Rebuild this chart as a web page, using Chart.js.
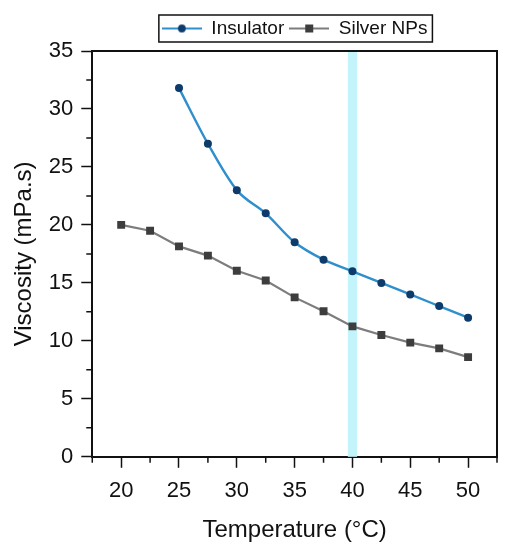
<!DOCTYPE html>
<html>
<head>
<meta charset="utf-8">
<script src="https://cdn.jsdelivr.net/npm/chart.js@4.4.1/dist/chart.umd.min.js"></script>
<style>
  html, body { margin: 0; padding: 0; background: #fff; }
  #wrap { width: 515px; height: 550px; }
</style>
</head>
<body>
<div id="wrap"><canvas id="idViscosity"></canvas></div>
<script>
        // data
        const temp_insulator = [25, 27.5, 30, 32.5, 35, 37.5, 40, 42.5, 45, 47.5, 50];
        const visc_insulator = [31.8, 27.0, 23.0, 21.0, 18.5, 17.0, 16.0, 15.0, 14.0, 13.0, 12.0];
        const temp_silver = [20, 22.5, 25, 27.5, 30, 32.5, 35, 37.5, 40, 42.5, 45, 47.5, 50];
        const visc_silver = [20.0, 19.5, 18.15, 17.35, 16.05, 15.2, 13.75, 12.55, 11.25, 10.5, 9.85, 9.35, 8.6];
        const band_40 = [39.6, 40.4];
        const series_names = ['Insulator', 'Silver NPs'];

        const FONT = "'Liberation Sans', Arial, sans-serif";

        // little line+marker pictures used as legend symbols
        function legendSymbol(lineColor, markColor, square) {
            var c = document.createElement('canvas');
            c.width = 40; c.height = 12;
            var g = c.getContext('2d');
            g.strokeStyle = lineColor;
            g.lineWidth = 2;
            g.beginPath(); g.moveTo(0, 6); g.lineTo(40, 6); g.stroke();
            g.fillStyle = markColor;
            if (square) {
                g.fillRect(16, 2, 8, 8);
            } else {
                g.beginPath(); g.arc(20, 6, 3.9, 0, Math.PI * 2); g.fill();
            }
            return c;
        }

        var sym1 = legendSymbol('#2f8fcd', '#0c3b6c', false);
        var sym2 = legendSymbol('#7d7d7d', '#3d3d3d', true);

        // cyan band, frame, minor ticks, legend border
        var extras = {
            id: 'extras',
            beforeDatasetsDraw(chart) {
                var ctx = chart.ctx, a = chart.chartArea, sx = chart.scales.x;
                var x0 = sx.getPixelForValue(band_40[0]);
                var x1 = sx.getPixelForValue(band_40[1]);
                ctx.save();
                ctx.fillStyle = '#c3f4fb';
                ctx.fillRect(x0, a.top, x1 - x0, a.bottom - a.top);
                ctx.restore();
            },
            afterDraw(chart) {
                var ctx = chart.ctx, a = chart.chartArea;
                var sx = chart.scales.x, sy = chart.scales.y;
                ctx.save();
                ctx.strokeStyle = '#111';
                ctx.lineWidth = 2;
                ctx.beginPath();
                ctx.moveTo(a.left, a.top); ctx.lineTo(a.right, a.top); ctx.lineTo(a.right, a.bottom);
                ctx.stroke();
                ctx.lineWidth = 1.5;
                ctx.beginPath();
                sx.ticks.forEach(function (t) {
                    if (t.value % 5 !== 0) {
                        var px = sx.getPixelForValue(t.value);
                        ctx.moveTo(px, a.bottom); ctx.lineTo(px, a.bottom + 6);
                    }
                });
                sy.ticks.forEach(function (t) {
                    if (t.value % 5 !== 0) {
                        var py = sy.getPixelForValue(t.value);
                        ctx.moveTo(a.left, py); ctx.lineTo(a.left - 6, py);
                    }
                });
                ctx.stroke();
                // legend border
                var hb = chart.legend.legendHitBoxes;
                if (hb && hb.length) {
                    var l = Math.min.apply(null, hb.map(h => h.left)) - 3;
                    var r = Math.max.apply(null, hb.map(h => h.left + h.width)) + 5;
                    var t = hb[0].top - 4;
                    var b = hb[0].top + hb[0].height + 4;
                    ctx.lineWidth = 1.5;
                    ctx.strokeStyle = '#111';
                    ctx.strokeRect(l, t, r - l, b - t);
                }
                ctx.restore();
            }
        };

        var data = {
            datasets: [
            {
                label: series_names[0],
                data: temp_insulator.map((x, i) => ({ x: x, y: visc_insulator[i] })),
                borderColor: '#2f8fcd',
                borderWidth: 2.4,
                cubicInterpolationMode: 'monotone',
                pointStyle: 'circle',
                pointRadius: 4,
                pointBackgroundColor: '#0c3b6c',
                pointBorderColor: '#0c3b6c',
                pointBorderWidth: 0
            },
            {
                label: series_names[1],
                data: temp_silver.map((x, i) => ({ x: x, y: visc_silver[i] })),
                borderColor: '#7d7d7d',
                borderWidth: 2.2,
                tension: 0,
                pointStyle: 'rect',
                pointRadius: 5.6,
                pointBackgroundColor: '#3d3d3d',
                pointBorderColor: '#3d3d3d',
                pointBorderWidth: 0
            }
        ]
        };

        function majorOnly(v) { return v % 5 === 0 ? v : ''; }

        var ctx = document.getElementById('idViscosity').getContext('2d');
        var idViscosity = new Chart(ctx, {
            type: 'line',
            data: data,
            plugins: [extras],
            options: {
                responsive: true,
                maintainAspectRatio: false,
                animation: false,
                layout: { padding: { left: 6, right: 18, top: 14, bottom: 5 } },
                scales: {
                    x: {
                        type: 'linear',
                        min: 17.5, max: 52.5,
                        ticks: {
                            stepSize: 2.5,
                            autoSkip: false,
                            maxRotation: 0,
                            padding: 10,
                            color: '#111',
                            font: { family: FONT, size: 22 },
                            callback: majorOnly
                        },
                        grid: {
                            drawOnChartArea: false,
                            tickLength: 11,
                            tickWidth: 1.5,
                            tickColor: (c) => (c.tick && c.tick.value % 5 === 0 ? '#111' : 'rgba(0,0,0,0)')
                        },
                        border: { color: '#111', width: 2 },
                        title: {
                            display: true, text: 'Temperature (°C)', color: '#111',
                            font: { family: FONT, size: 24 }, padding: { top: 2, bottom: 0 }
                        }
                    },
                    // empty top axis only to leave a gap under the legend
                    xTop: {
                        type: 'linear',
                        position: 'top',
                        min: 17.5, max: 52.5,
                        ticks: { display: false },
                        grid: { drawOnChartArea: false, tickLength: 3, tickColor: 'rgba(0,0,0,0)' },
                        border: { display: false }
                    },
                    y: {
                        min: 0, max: 35,
                        ticks: {
                            stepSize: 2.5,
                            autoSkip: false,
                            padding: 8,
                            color: '#111',
                            font: { family: FONT, size: 22 },
                            callback: majorOnly
                        },
                        grid: {
                            drawOnChartArea: false,
                            tickLength: 11,
                            tickWidth: 1.5,
                            tickColor: (c) => (c.tick && c.tick.value % 5 === 0 ? '#111' : 'rgba(0,0,0,0)')
                        },
                        border: { color: '#111', width: 2 },
                        title: {
                            display: true, text: 'Viscosity (mPa.s)', color: '#111',
                            font: { family: FONT, size: 24 }, padding: { bottom: 2 }
                        }
                    }
                },
                plugins: {
                    legend: {
                        display: true,
                        position: 'top',
                        fullSize: false,
                        labels: {
                            usePointStyle: true,
                            pointStyleWidth: 40,
                            padding: 5,
                            color: '#111',
                            font: { family: FONT, size: 19 },
                            generateLabels: function (chart) {
                                return chart.data.datasets.map((d, i) => ({
                                    text: d.label,
                                    pointStyle: i === 0 ? sym1 : sym2,
                                    datasetIndex: i,
                                    hidden: false,
                                    lineWidth: 0,
                                    fontColor: '#111'
                                }));
                            }
                        }
                    },
                    tooltip: { enabled: false }
                }
            }
        });
</script>
</body>
</html>
